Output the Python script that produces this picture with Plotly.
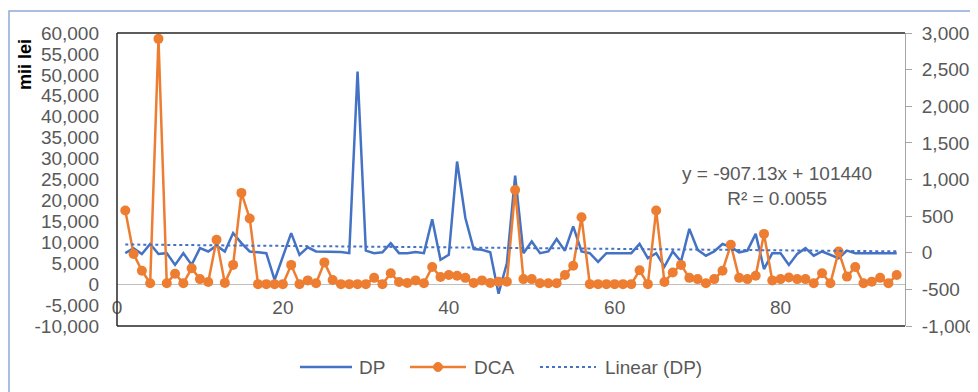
import numpy as np
import plotly.graph_objects as go

# ---- data (mii lei) ----
x_index = list(range(1, 95))

dp = [7400, 8600, 7200, 9600, 7200, 7400, 4600, 7400, 4600, 8600,
      7800, 9200, 7800, 12200, 9800, 7800, 7600, 7400, 1000, 6600,
      12200, 7000, 8800, 7800, 7800, 7800, 7700, 7400, 50800, 8000,
      7400, 7600, 9800, 7400, 7400, 7700, 7400, 15500, 5800, 7000,
      29300, 15800, 8400, 8200, 7600, -2300, 5000, 25900, 7400, 10200,
      7400, 7800, 10800, 8000, 13800, 7800, 7400, 5300, 7400, 7400,
      7400, 7400, 9600, 6200, 7400, 4200, 7800, 5400, 13200, 8200,
      6800, 7800, 9600, 8900, 7600, 8000, 12000, 3600, 7400, 7400,
      4600, 7200, 8600, 6800, 7800, 7000, 6200, 8000, 7400, 7400,
      7400, 7400, 7400, 7400]

dca = [17600, 7200, 3200, 200, 58600, 200, 2500, 200, 3800, 1200,
       500, 10600, 300, 4600, 21800, 15700, 0, 0, 0, 0,
       4600, 0, 900, 200, 5200, 1000, 0, 0, 0, 0,
       1500, 0, 2600, 500, 300, 900, 200, 4100, 1700, 2200,
       2000, 1500, 300, 900, 300, 600, 600, 22500, 1200, 1200,
       200, 200, 200, 2200, 4400, 16000, 0, 0, 0, 0,
       0, 0, 3300, 0, 17600, 500, 2800, 4600, 1500, 1200,
       200, 1200, 3200, 9400, 1500, 1200, 2000, 12000, 900, 1200,
       1600, 1200, 1200, 200, 2600, 200, 7800, 1800, 4100, 200,
       600, 1500, 200, 2200]

left_ticks = list(range(-10000, 60001, 5000))
right_ticks = list(range(-1000, 3001, 500))
x_ticks = [0, 20, 40, 60, 80]
series_names = ["DP", "DCA", "Linear (DP)"]
trend_label = "y = -907.13x + 101440<br>R² = 0.0055"

# ---- styling ----
BLUE = "#4472C4"
ORANGE = "#ED7D31"
GREY = "#595959"
FONT = "Liberation Sans, Arial, sans-serif"
FS = 19

# page body has an 8px margin; figure is sized to fit the 978x392 window
OFF = 8
W, H = 978 - OFF, 392 - OFF
# plot area in window pixels
L, R, T, B = 117, 905, 33, 326

def px_x(px):
    return (px - L) / (R - L)

def px_y(py):
    return (B - py) / (B - T)

def fmt(v):
    return f"{v:,}"

slope, intercept = np.polyfit(x_index, dp, 1)
trend = [slope * xi + intercept for xi in x_index]

fig = go.Figure()
fig.add_trace(go.Scatter(x=x_index, y=dp, name=series_names[0], mode="lines",
                         line=dict(color=BLUE, width=2.5), showlegend=False))
fig.add_trace(go.Scatter(x=x_index, y=dca, name=series_names[1],
                         mode="lines+markers",
                         line=dict(color=ORANGE, width=2.5),
                         marker=dict(color=ORANGE, size=10), showlegend=False))
fig.add_trace(go.Scatter(x=[x_index[0], x_index[-1]], y=[trend[0], trend[-1]],
                         name=series_names[2], mode="lines",
                         line=dict(color=BLUE, width=2, dash="dot"),
                         showlegend=False))
# secondary axis carrier (no visible marks)
fig.add_trace(go.Scatter(x=[None], y=[None], yaxis="y2", showlegend=False,
                         hoverinfo="skip", mode="lines"))

# ---- legend drawn at the reference's positions ----
LEG_Y = px_y(367)
legend_shapes = [
    dict(type="line", xref="paper", yref="paper", x0=px_x(300), x1=px_x(352),
         y0=LEG_Y, y1=LEG_Y, line=dict(color=BLUE, width=2.5)),
    dict(type="line", xref="paper", yref="paper", x0=px_x(410), x1=px_x(466),
         y0=LEG_Y, y1=LEG_Y, line=dict(color=ORANGE, width=2.5)),
    dict(type="circle", xref="paper", yref="paper",
         xsizemode="pixel", ysizemode="pixel",
         xanchor=px_x(438), yanchor=LEG_Y,
         x0=-4.5, x1=4.5, y0=-4.5, y1=4.5,
         fillcolor=ORANGE, line=dict(color=ORANGE, width=1)),
    dict(type="line", xref="paper", yref="paper", x0=px_x(540), x1=px_x(596),
         y0=LEG_Y, y1=LEG_Y, line=dict(color=BLUE, width=2, dash="dot")),
]
legend_text_x = [357, 472, 603]
legend_annotations = [
    dict(text=name, xref="paper", yref="paper", x=px_x(tx), y=LEG_Y,
         xanchor="left", yanchor="middle", showarrow=False,
         font=dict(size=FS, color=GREY))
    for name, tx in zip(series_names, legend_text_x)
]

fig.update_layout(
    width=W, height=H,
    margin=dict(l=L - OFF, r=W - (R - OFF), t=T - OFF, b=H - (B - OFF),
                autoexpand=False),
    paper_bgcolor="white", plot_bgcolor="white",
    font=dict(family=FONT, size=FS, color=GREY),
    showlegend=False,
    xaxis=dict(range=[0, 95], tickvals=x_ticks, showgrid=False,
               zeroline=False, showline=False, ticks="",
               anchor="free", position=1 / 7, ticklabelstandoff=10,
               tickfont=dict(size=FS, color=GREY)),
    yaxis=dict(range=[-10000, 60000], tickvals=left_ticks,
               ticktext=[fmt(v) for v in left_ticks], showgrid=False,
               zeroline=True, zerolinecolor="#BFBFBF", zerolinewidth=1.3,
               showline=False, ticks="", ticklabelstandoff=17,
               tickfont=dict(size=FS, color=GREY)),
    yaxis2=dict(range=[-1000, 3000], tickvals=right_ticks,
                ticktext=[fmt(v) for v in right_ticks],
                overlaying="y", side="right",
                showgrid=False, zeroline=False, showline=True,
                linecolor="#A6A6A6", linewidth=1,
                ticks="outside", ticklen=6, tickcolor="#A6A6A6",
                ticklabelstandoff=6,
                tickfont=dict(size=FS, color=GREY)),
    shapes=[
        # outer chart border (light blue)
        dict(type="rect", xref="paper", yref="paper",
             x0=px_x(9), x1=px_x(1000), y0=px_y(410), y1=px_y(11),
             line=dict(color="#8EA9DB", width=1.5), layer="below"),
        # plot area frame
        dict(type="line", xref="paper", yref="paper",
             x0=0, x1=1, y0=1, y1=1, line=dict(color="#262626", width=1.5)),
        dict(type="line", xref="paper", yref="paper",
             x0=0, x1=1, y0=0, y1=0, line=dict(color="#262626", width=1.5)),
        dict(type="line", xref="paper", yref="paper",
             x0=0, x1=0, y0=0, y1=1, line=dict(color="#262626", width=1.5)),
    ] + legend_shapes,
    annotations=[
        dict(text="mii lei", xref="paper", yref="paper",
             x=px_x(25), y=px_y(65), textangle=-90, showarrow=False,
             xanchor="center", yanchor="middle",
             font=dict(size=18, color="black", family=FONT, weight="bold")),
        dict(text=trend_label, xref="paper", yref="paper",
             x=px_x(777), y=px_y(186), showarrow=False,
             xanchor="center", yanchor="middle", align="center",
             font=dict(size=FS, color=GREY)),
    ] + legend_annotations,
)

fig.write_html("out.html")
